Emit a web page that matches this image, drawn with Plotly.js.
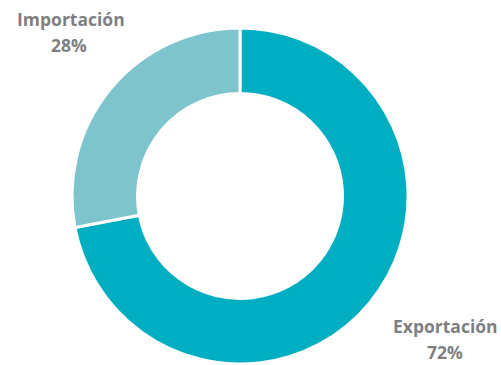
<!DOCTYPE html>
<html><head><meta charset="utf-8">
<script src="https://cdn.plot.ly/plotly-3.0.1.min.js"></script>
<style>html,body{margin:0;padding:0;background:#fff}#c{width:501px;height:365px}</style>
</head><body><div id="c"></div>
<script>
const labels = ["Exportación", "Importación"];
const values = [72, 28];
const colors = ["#00AEC1", "#7DC4CC"];
const pctText = ["72%", "28%"];

const W = 501, H = 365, cx = 240, cy = 196, R = 168;
const trace = {
  type: "pie",
  labels: labels,
  values: values,
  hole: 0.61,
  sort: false,
  direction: "clockwise",
  rotation: 0,
  textinfo: "none",
  hoverinfo: "label+percent",
  marker: {colors: colors, line: {color: "#ffffff", width: 3}},
  domain: {x: [(cx - R) / W, (cx + R) / W], y: [1 - (cy + R) / H, 1 - (cy - R) / H]},
  showlegend: false
};
const font = {family: "Open Sans, sans-serif", size: 17.5, color: "#7F7F7F", weight: "bold"};
function ann(text, px, py, anchor) {
  return {text: "<b>" + text + "</b>", x: px / W, y: 1 - py / H, xref: "paper", yref: "paper",
    showarrow: false, font: font, align: "center", xanchor: "center", yanchor: anchor, borderpad: 0};
}
const layout = {
  width: W, height: H,
  margin: {l: 0, r: 0, t: 0, b: 0},
  paper_bgcolor: "#ffffff",
  showlegend: false,
  annotations: [
    ann(labels[0], 445, 339, "bottom"),
    ann(pctText[0], 445, 364.5, "bottom"),
    ann(labels[1], 71, 32, "bottom"),
    ann(pctText[1], 69, 32.4, "top")
  ]
};
Plotly.newPlot("c", [trace], layout, {displayModeBar: false, staticPlot: true});
</script></body></html>
